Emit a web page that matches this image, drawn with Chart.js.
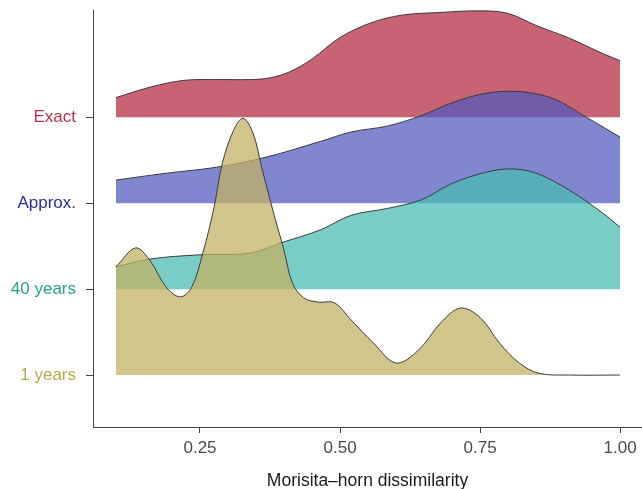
<!DOCTYPE html>
<html lang="en">
<head>
  <meta charset="UTF-8" />
  <title>Ridgeline - Morisita-horn dissimilarity</title>
  <script src="https://cdn.jsdelivr.net/npm/chart.js"></script>
  <style>
    body {
      margin: 0;
      background: #fff;
    }
    .chart-box {
      position: relative;
      width: 642px;
      height: 489px;
    }
  </style>
</head>
<body>
  <div class="chart-box">
    <canvas id="ridgeChart"></canvas>
  </div>

  <script>
    // rows from bottom to top
    const categories = ['1 years', '40 years', 'Approx.', 'Exact'];
    const xTicks = [0.25, 0.50, 0.75, 1.00];

    // ridge heights above each row's baseline (in row units)
    const exactX = [0.10, 0.16, 0.22, 0.28, 0.34, 0.375, 0.41, 0.45, 0.50, 0.555, 0.61, 0.675, 0.75, 0.80, 0.85, 0.91, 0.97, 1.00];
    const exactH = [0.23, 0.35, 0.43, 0.44, 0.44, 0.46, 0.53, 0.68, 0.93, 1.10, 1.19, 1.22, 1.24, 1.21, 1.07, 0.92, 0.74, 0.66];

    const approxX = [0.10, 0.19, 0.28, 0.37, 0.465, 0.52, 0.585, 0.645, 0.70, 0.76, 0.82, 0.88, 0.94, 1.00];
    const approxH = [0.27, 0.35, 0.42, 0.54, 0.72, 0.83, 0.90, 1.02, 1.17, 1.28, 1.30, 1.22, 1.00, 0.77];

    const years40X = [0.10, 0.16, 0.25, 0.34, 0.395, 0.465, 0.52, 0.585, 0.645, 0.70, 0.76, 0.805, 0.85, 0.91, 0.97, 1.00];
    const years40H = [0.26, 0.35, 0.40, 0.42, 0.54, 0.69, 0.86, 0.94, 1.04, 1.23, 1.36, 1.40, 1.35, 1.15, 0.88, 0.72];

    const years1X = [0.10, 0.135, 0.16, 0.19, 0.215, 0.235, 0.255, 0.275, 0.29, 0.31, 0.327, 0.345, 0.36, 0.38, 0.40, 0.415, 0.435, 0.46, 0.49, 0.52, 0.56, 0.60, 0.64, 0.68, 0.715, 0.75, 0.785, 0.82, 0.855, 0.91, 1.00];
    const years1H = [1.26, 1.48, 1.34, 1.02, 0.91, 1.02, 1.42, 1.95, 2.47, 2.85, 2.99, 2.81, 2.42, 1.92, 1.45, 1.07, 0.90, 0.85, 0.84, 0.64, 0.37, 0.14, 0.29, 0.61, 0.78, 0.67, 0.37, 0.14, 0.02, 0.00, 0.00];

    const fillColors = ['rgba(195,178,100,0.75)', 'rgba(75,190,180,0.75)', 'rgba(80,88,190,0.72)', 'rgba(185,55,75,0.78)'];
    const labelColors = ['#b3ab4a', '#26a586', '#2b2b9c', '#b8304f'];

    function ridge(xs, hs, row) {
      const base = row + 1;
      return {
        label: categories[row],
        data: xs.map((x, i) => ({ x: x, y: base + hs[i] })),
        fill: { value: base },
        backgroundColor: fillColors[row],
        borderColor: '#3a3a3a',
        borderWidth: 1,
        pointRadius: 0,
        tension: 0.35,
        order: row
      };
    }

    const font = { family: "'Liberation Sans', Arial, sans-serif", size: 17 };

    new Chart(document.getElementById('ridgeChart'), {
      type: 'line',
      data: {
        datasets: [
          ridge(years1X, years1H, 0),
          ridge(years40X, years40H, 1),
          ridge(approxX, approxH, 2),
          ridge(exactX, exactH, 3)
        ]
      },
      options: {
        responsive: true,
        maintainAspectRatio: false,
        animation: false,
        layout: { padding: { top: 10, right: 0, left: 0, bottom: 0 } },
        plugins: {
          legend: { display: false },
          tooltip: { enabled: false }
        },
        scales: {
          x: {
            type: 'linear',
            min: 0.059,
            max: 1.039,
            afterBuildTicks: s => { s.ticks = xTicks.map(v => ({ value: v })); },
            afterFit: s => { s.height = 62; s.paddingLeft = 0; s.paddingRight = 0; },
            grid: { drawOnChartArea: false, drawTicks: true, tickLength: 6, color: '#444' },
            border: { color: '#444', width: 1 },
            ticks: {
              font: font,
              color: '#4a4a4a',
              padding: 5,
              maxRotation: 0,
              callback: v => v.toFixed(2)
            },
            title: {
              display: true,
              text: 'Morisita\u2013horn dissimilarity',
              font: { family: font.family, size: 17.5 },
              color: '#1a1a1a',
              padding: { top: 10, bottom: -3 }
            }
          },
          y: {
            type: 'linear',
            min: 0.395,
            max: 5.25,
            afterBuildTicks: s => { s.ticks = [1, 2, 3, 4].map(v => ({ value: v })); },
            afterFit: s => { s.width = 93; s.paddingTop = 0; s.paddingBottom = 0; },
            grid: { drawOnChartArea: false, drawTicks: true, tickLength: 7, color: '#444' },
            border: { color: '#444', width: 1 },
            ticks: {
              font: font,
              padding: 10,
              color: ctx => labelColors[ctx.index],
              callback: v => categories[v - 1]
            }
          }
        }
      }
    });
  </script>
</body>
</html>
